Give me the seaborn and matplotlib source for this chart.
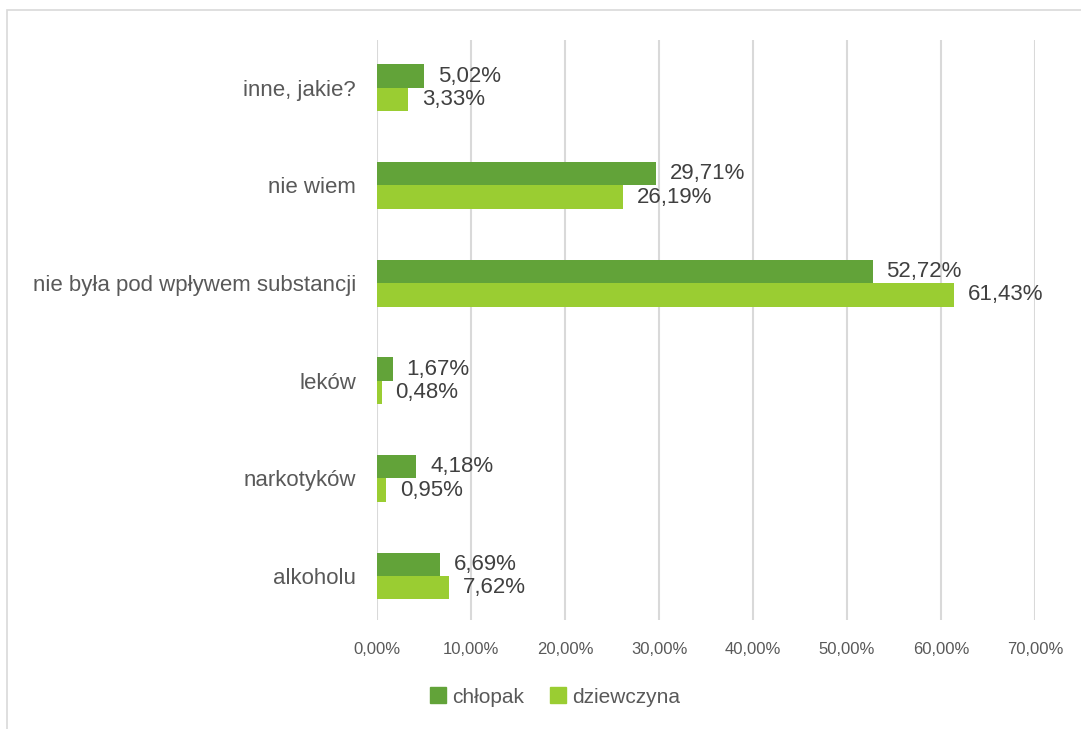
import pandas as pd
import matplotlib.pyplot as plt
import seaborn as sns
from matplotlib.patches import Rectangle
from matplotlib.ticker import FuncFormatter

categories = ["inne, jakie?", "nie wiem", "nie była pod wpływem substancji",
              "leków", "narkotyków", "alkoholu"]
chlopak = [5.02, 29.71, 52.72, 1.67, 4.18, 6.69]
dziewczyna = [3.33, 26.19, 61.43, 0.48, 0.95, 7.62]
series = ["chłopak", "dziewczyna"]
x_ticks = [0, 10, 20, 30, 40, 50, 60, 70]

df = pd.DataFrame({
    "kategoria": categories * 2,
    "płeć": [series[0]] * len(categories) + [series[1]] * len(categories),
    "procent": chlopak + dziewczyna,
})

sns.set_style("white")
plt.rcParams["font.family"] = ["Liberation Sans", "DejaVu Sans"]

fig = plt.figure(figsize=(10.81, 7.29), dpi=100)
ax = fig.add_axes([377 / 1081, 1 - 620 / 729, (1035 - 377) / 1081, (620 - 40) / 729])

palette = {"chłopak": "#62A339", "dziewczyna": "#9ACD32"}
sns.barplot(data=df, y="kategoria", x="procent", hue="płeć", orient="h",
            order=categories, hue_order=series, palette=palette,
            width=0.48, linewidth=0, saturation=1, ax=ax, legend=False)

ax.set_xlim(0, 70)
ax.set_ylim(5.45, -0.49)
ax.set_xticks(x_ticks)
ax.xaxis.set_major_formatter(FuncFormatter(lambda v, p: f"{v:.2f}%".replace(".", ",")))
ax.tick_params(axis="x", labelsize=12, labelcolor="#595959", length=0, pad=16)
ax.tick_params(axis="y", labelsize=16, labelcolor="#595959", length=0, pad=15)
ax.set_xlabel("")
ax.set_ylabel("")
ax.grid(axis="x", color="#d9d9d9", linewidth=1.5)
ax.set_axisbelow(True)
for s in ax.spines.values():
    s.set_visible(False)

for cont in ax.containers:
    labels = [f"{v:.2f}%".replace(".", ",") for v in cont.datavalues]
    ax.bar_label(cont, labels=labels, padding=10, fontsize=16, color="#404040")

handles = [Rectangle((0, 0), 1, 1, color=palette[s]) for s in series]
fig.legend(handles, series, loc="center", bbox_to_anchor=(555 / 1081, 1 - 697 / 729),
           ncol=2, frameon=False, fontsize=15, labelcolor="#595959",
           handlelength=0.8, handleheight=0.8, handletextpad=0.3, columnspacing=1.2)

fig.add_artist(Rectangle((7 / 1081, -0.1), 1.2, 1 - 10 / 729 + 0.1, transform=fig.transFigure,
                         fill=False, edgecolor="#d9d9d9", linewidth=1.2))

fig.savefig("out.png", dpi=100)
